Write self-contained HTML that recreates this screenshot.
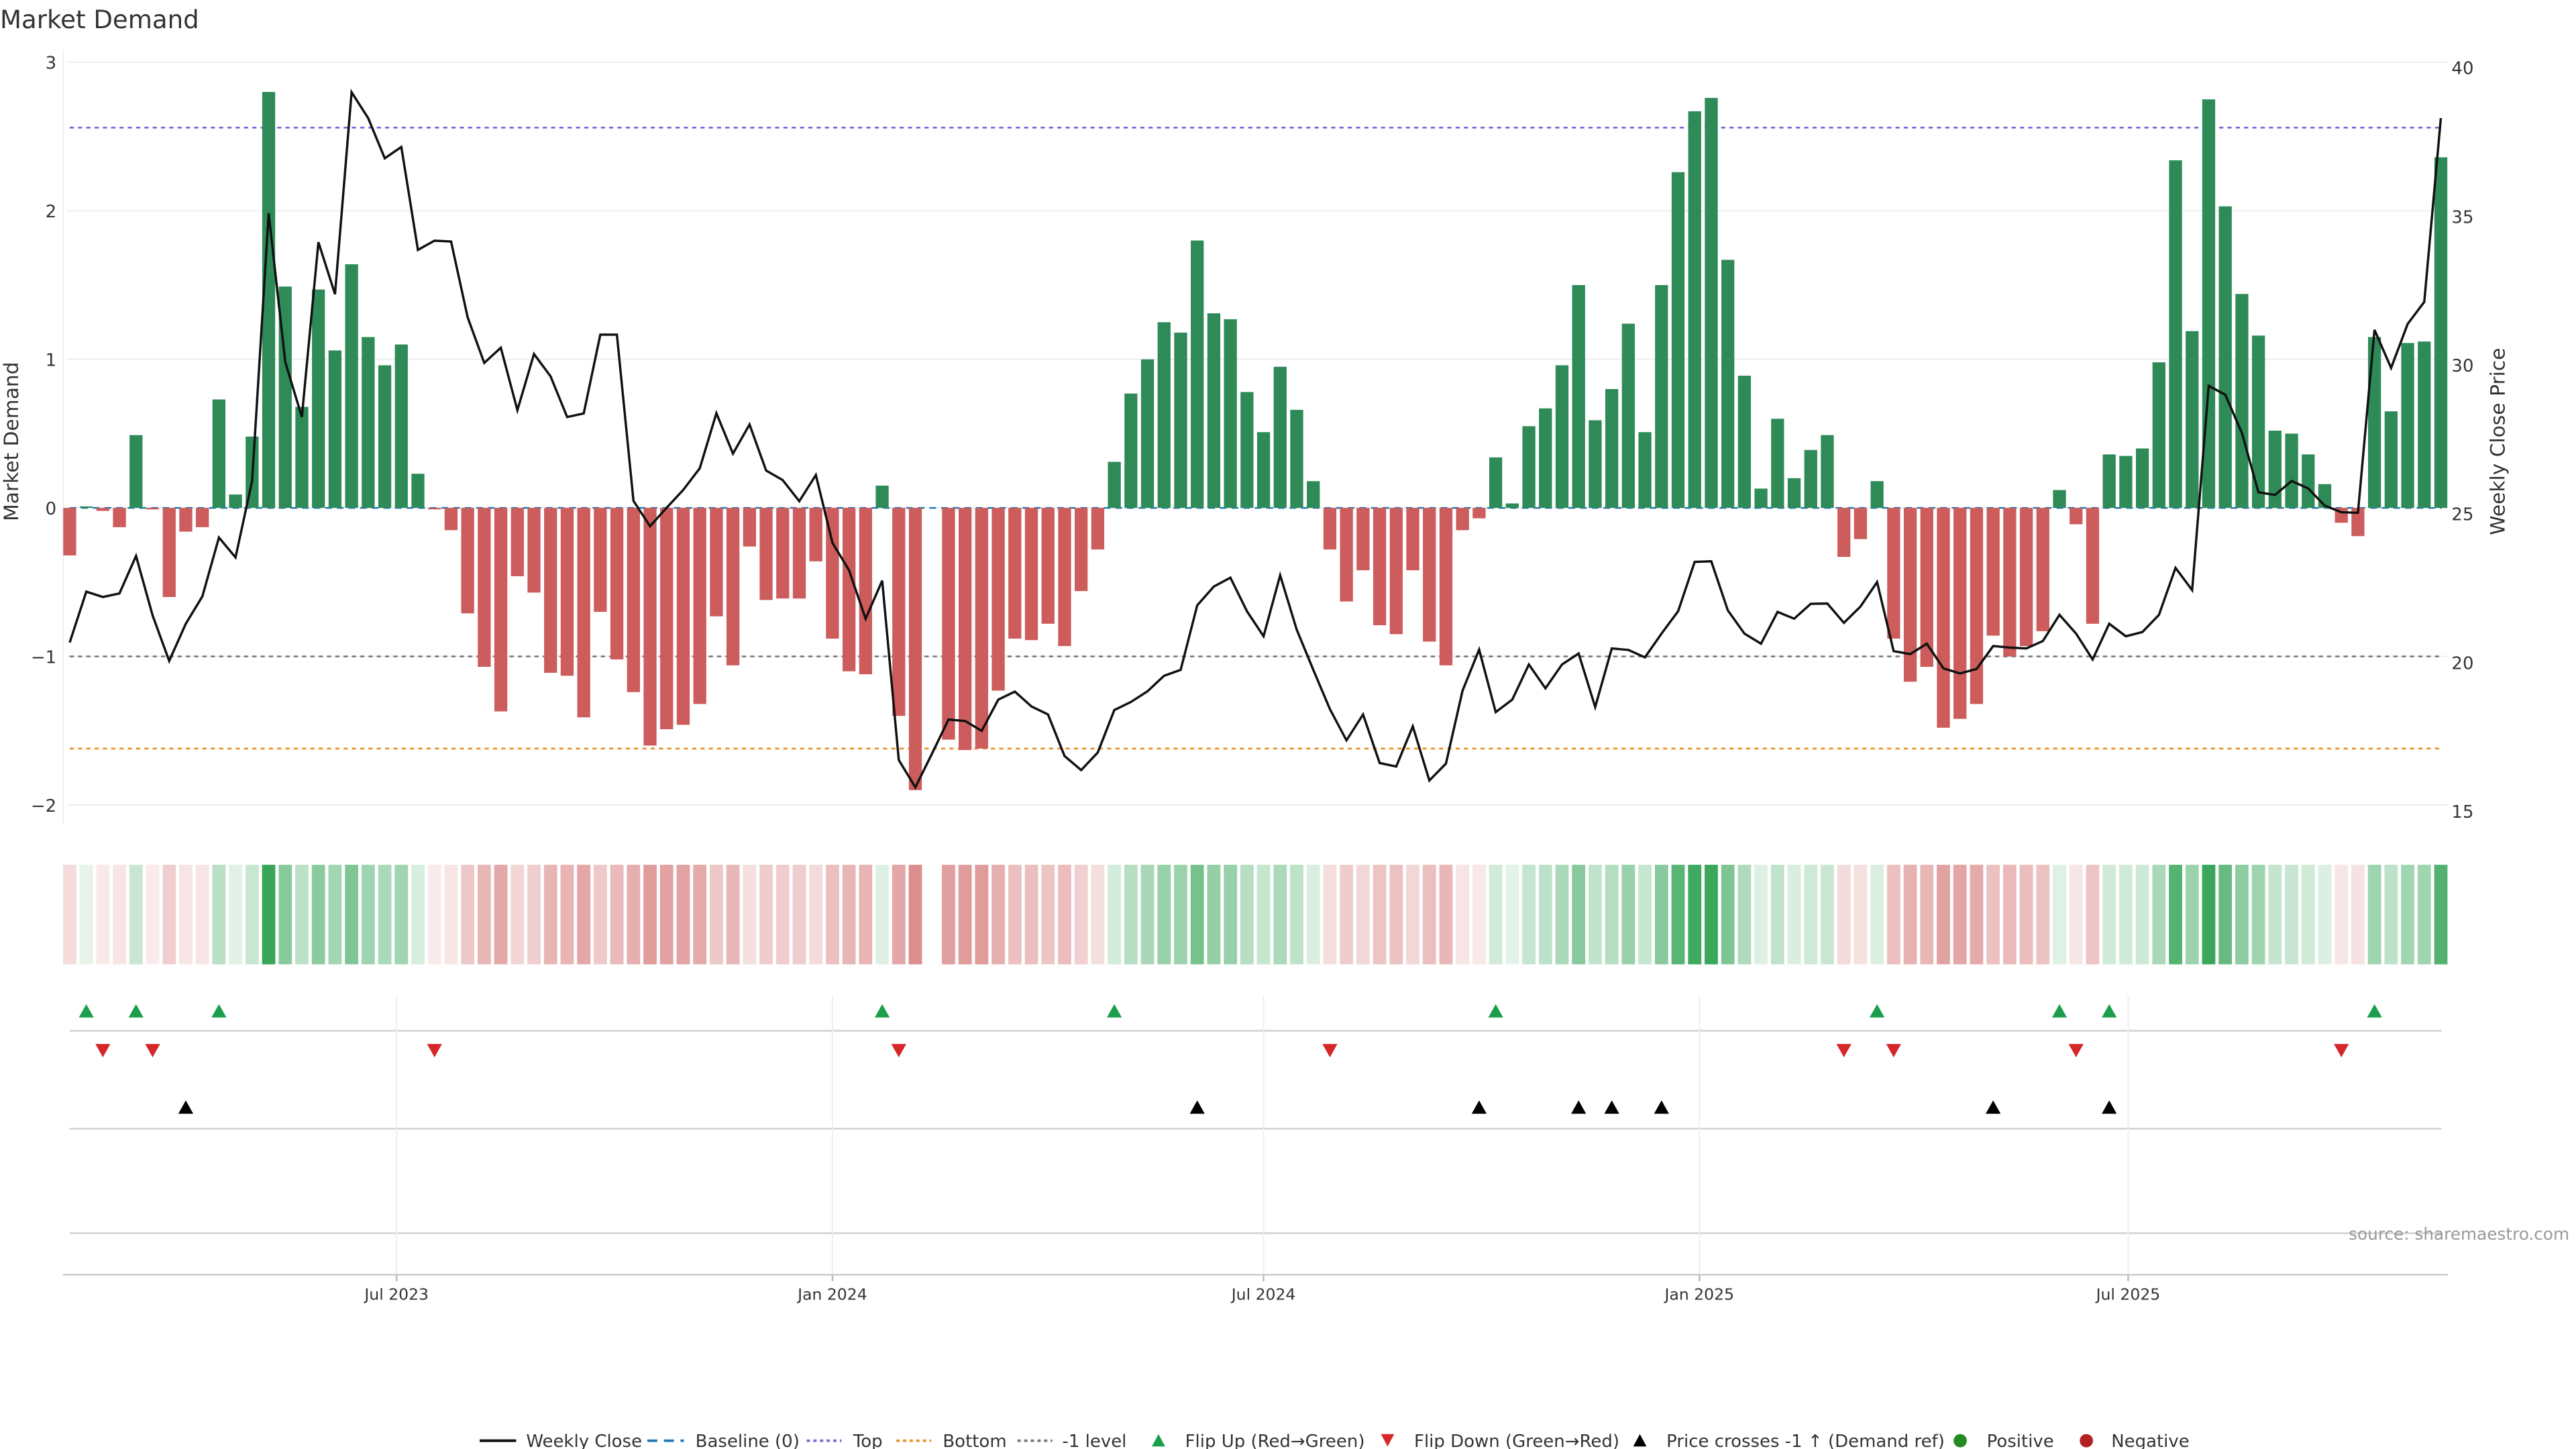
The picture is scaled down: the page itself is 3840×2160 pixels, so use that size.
<!DOCTYPE html>
<html><head><meta charset="utf-8"><title>Market Demand</title>
<style>
html,body{margin:0;padding:0;background:#fff;}
svg{display:block;}
text{font-family:"DejaVu Sans","Liberation Sans",sans-serif;}
</style></head>
<body>
<svg id="chart" xmlns="http://www.w3.org/2000/svg" width="3840" height="2160" viewBox="0 0 1552 873">
<text x="0" y="17" font-size="15" fill="#333">Market Demand</text>
<g id="grid"></g>
<g id="refs"></g>
<g id="bars"></g>
<g id="line"></g>
<g id="axes"></g>
<g id="heat"></g>
<g id="markers"></g>
<g id="xaxis"></g>
<text x="1548" y="747" font-size="10" fill="#999" text-anchor="end">source: sharemaestro.com</text>
<g id="legend"></g>
</svg>
<script>
const demand=[-0.32,0.01,-0.02,-0.13,0.49,-0.01,-0.60,-0.16,-0.13,0.73,0.09,0.48,2.80,1.49,0.68,1.47,1.06,1.64,1.15,0.96,1.10,0.23,-0.01,-0.15,-0.71,-1.07,-1.37,-0.46,-0.57,-1.11,-1.13,-1.41,-0.70,-1.02,-1.24,-1.60,-1.49,-1.46,-1.32,-0.73,-1.06,-0.26,-0.62,-0.61,-0.61,-0.36,-0.88,-1.10,-1.12,0.15,-1.40,-1.90,0,-1.56,-1.63,-1.62,-1.23,-0.88,-0.89,-0.78,-0.93,-0.56,-0.28,0.31,0.77,1.00,1.25,1.18,1.80,1.31,1.27,0.78,0.51,0.95,0.66,0.18,-0.28,-0.63,-0.42,-0.79,-0.85,-0.42,-0.90,-1.06,-0.15,-0.07,0.34,0.03,0.55,0.67,0.96,1.50,0.59,0.80,1.24,0.51,1.50,2.26,2.67,2.76,1.67,0.89,0.13,0.60,0.20,0.39,0.49,-0.33,-0.21,0.18,-0.88,-1.17,-1.07,-1.48,-1.42,-1.32,-0.86,-1.00,-0.93,-0.83,0.12,-0.11,-0.78,0.36,0.35,0.40,0.98,2.34,1.19,2.75,2.03,1.44,1.16,0.52,0.50,0.36,0.16,-0.10,-0.19,1.15,0.65,1.11,1.12,2.36];
const price=[20.67,22.38,22.2,22.32,23.58,21.58,20.05,21.3,22.22,24.2,23.53,26.1,35.1,30.1,28.25,34.13,32.38,39.17,38.3,36.95,37.33,33.87,34.18,34.15,31.6,30.07,30.58,28.48,30.37,29.62,28.25,28.37,31.02,31.02,25.43,24.58,25.2,25.8,26.53,28.38,27.02,28.0,26.45,26.13,25.42,26.3,24.02,23.1,21.47,22.75,16.72,15.8,16.93,18.08,18.03,17.7,18.75,19.02,18.52,18.25,16.85,16.38,16.97,18.4,18.67,19.03,19.55,19.75,21.92,22.55,22.85,21.72,20.88,22.93,21.1,19.75,18.43,17.38,18.25,16.62,16.5,17.85,16.03,16.6,19.05,20.43,18.33,18.75,19.93,19.13,19.93,20.3,18.5,20.47,20.42,20.17,20.97,21.72,23.38,23.4,21.75,20.97,20.63,21.7,21.47,21.97,21.98,21.33,21.88,22.7,20.38,20.28,20.63,19.8,19.63,19.78,20.55,20.5,20.47,20.72,21.6,20.97,20.1,21.3,20.88,21.02,21.6,23.18,22.43,29.3,29.0,27.72,25.72,25.63,26.1,25.85,25.27,25.05,25.03,31.18,29.9,31.38,32.12,38.3];
const flipUp=[1,4,9,49,63,86,109,120,123,139];
const flipDown=[2,5,22,50,76,107,110,121,137];
const priceCross=[7,68,85,91,93,96,116,123];
const leftTicks=[3,2,1,0,-1,-2];
const rightTicks=[40,35,30,25,20,15];
const xTickLabels=["Jul 2023","Jan 2024","Jul 2024","Jan 2025","Jul 2025"];
const xTickDates=["2023-07-01","2024-01-01","2024-07-01","2025-01-01","2025-07-01"];
const topLevel=2.56, bottomLevel=-1.62, minusOne=-1;
const startDate="2023-02-13";

const NS="http://www.w3.org/2000/svg";
const X0=42, STEP=9.99;
const xi=i=>X0+i*STEP;
const xd=d=>X0+(Date.parse(d)-Date.parse(startDate))/(7*864e5)*STEP;
const yD=v=>306-v*89.5;
const yP=p=>309.5-(p-25)*17.92;
function mk(tag,attrs,parent){const e=document.createElementNS(NS,tag);for(const k in attrs)e.setAttribute(k,attrs[k]);parent.appendChild(e);return e;}
const g=id=>document.getElementById(id);

// grid
leftTicks.forEach(v=>{
  const l=mk('line',{x1:40,x2:1475,y1:yD(v),y2:yD(v),stroke:'#eeeeee','stroke-width':0.8},g('grid'));
  
  
});
const la=mk('line',{x1:38,x2:38,y1:30,y2:497,stroke:'#f0f0f0','stroke-width':0.8},g('grid'));



// reference lines
function ref(v,color,dash,name,w){const l=mk('line',{x1:42,x2:1471,y1:yD(v),y2:yD(v),stroke:color,'stroke-width':w||1.1,'stroke-dasharray':dash},g('refs'));
  
  }
ref(topLevel,'#7a6ad8','2.5,2.5','top-line');
ref(bottomLevel,'#e8922a','2.5,2.5','bottom-line');
ref(minusOne,'#777777','2.5,2.5','minus-one-level-line');

// bars
demand.forEach((v,i)=>{
  if(v===0)return;
  const y=Math.min(yD(v),yD(0)),h=Math.abs(yD(v)-yD(0));
  const r=mk('rect',{x:xi(i)-3.9,y:y,width:7.8,height:Math.max(h,0.6),fill:v>=0?'#2e8b57':'#cd5c5c'},g('bars'));
  
  
});
ref(0,'#1f77b4','4,3','baseline-zero',1);

// price line
const pts=price.map((p,i)=>xi(i).toFixed(2)+','+yP(p).toFixed(2)).join(' ');
const pl=mk('polyline',{points:pts,fill:'none',stroke:'#111','stroke-width':1.4,'stroke-linejoin':'miter'},g('line'));



// axes labels
leftTicks.forEach(v=>{
  const t=mk('text',{x:34,y:yD(v)+4,'font-size':10.5,fill:'#333','text-anchor':'end'},g('axes'));
  t.textContent=v<0?'\u2212'+Math.abs(v):String(v);
  
  
});
rightTicks.forEach(v=>{
  const t=mk('text',{x:1477,y:yP(v)+4,'font-size':10.5,fill:'#333'},g('axes'));
  t.textContent=String(v);
  
  
});
const yt=mk('text',{x:0,y:0,'font-size':12,fill:'#333','text-anchor':'middle',transform:'translate(11,266) rotate(-90)'},g('axes'));
yt.textContent='Market Demand';


const yt2=mk('text',{x:0,y:0,'font-size':12,fill:'#333','text-anchor':'middle',transform:'translate(1509,266) rotate(-90)'},g('axes'));
yt2.textContent='Weekly Close Price';



// heatmap
demand.forEach((v,i)=>{
  if(v===0)return;
  const t=Math.min(0.12+0.85*Math.abs(v)/2.8,1);
  const base=v>=0?[49,163,84]:[205,92,92];
  const c=base.map(b=>Math.round(255-(255-b)*t));
  const r=mk('rect',{x:xi(i)-4,y:521,width:8,height:60,fill:'rgb('+c.join(',')+')'},g('heat'));
  
  
});

// marker rows
[621,680,743].forEach(y=>{const l=mk('line',{x1:42,x2:1471,y1:y,y2:y,stroke:'#d0d0d0','stroke-width':1},g('markers'));
  
  });
xTickDates.forEach(d=>{const l=mk('line',{x1:xd(d),x2:xd(d),y1:600,y2:768,stroke:'#eeeeee','stroke-width':0.8},g('markers'));
  
  });
function tri(x,y,up,color,name){
  const p=up?`${x-4.5},${y+4} ${x+4.5},${y+4} ${x},${y-4}`:`${x-4.5},${y-4} ${x+4.5},${y-4} ${x},${y+4}`;
  const e=mk('polygon',{points:p,fill:color},g('markers'));
  
  
}
flipUp.forEach(i=>tri(xi(i),609,true,'#1a9e4a','flip-up-marker'));
flipDown.forEach(i=>tri(xi(i),633,false,'#d62728','flip-down-marker'));
priceCross.forEach(i=>tri(xi(i),667,true,'#000','price-cross-marker'));

// x axis
const xa=mk('line',{x1:38,x2:1475,y1:768,y2:768,stroke:'#cccccc','stroke-width':1},g('xaxis'));


xTickDates.forEach((d,k)=>{
  const tk=mk('line',{x1:xd(d),x2:xd(d),y1:768,y2:772,stroke:'#bbb','stroke-width':1},g('xaxis'));
  
  
  const t=mk('text',{x:xd(d),y:783,'font-size':9.5,fill:'#333','text-anchor':'middle'},g('xaxis'));
  t.textContent=xTickLabels[k];
  
  
});

// legend
const L=g('legend'), LY=868;
function ltext(x,s){const t=mk('text',{x:x,y:LY+3.7,'font-size':10.5,fill:'#333'},L);t.textContent=s;
  
  }
function lline(x1,x2,color,dash,w){const l=mk('line',{x1:x1,x2:x2,y1:LY,y2:LY,stroke:color,'stroke-width':w,'stroke-dasharray':dash},L);
  
  }
lline(289,311,'#111','none',1.6); ltext(317,'Weekly Close');
lline(390,412,'#1f77b4','6,4',1.5); ltext(419,'Baseline (0)');
lline(486,507,'#7a6ad8','2,2',1.5); ltext(514,'Top');
lline(540,561,'#e8922a','2,2',1.5); ltext(568,'Bottom');
lline(613,634,'#777','2,2',1.5); ltext(640,'-1 level');
function ltri(x,up,color){const y=LY;const p=up?`${x-4},${y+3.5} ${x+4},${y+3.5} ${x},${y-4}`:`${x-4},${y-4} ${x+4},${y-4} ${x},${y+3.5}`;
  const e=mk('polygon',{points:p,fill:color},L);
  
  }
ltri(698,true,'#1a9e4a'); ltext(714,'Flip Up (Red\u2192Green)');
ltri(836,false,'#d62728'); ltext(852,'Flip Down (Green\u2192Red)');
ltri(988,true,'#000'); ltext(1004,'Price crosses -1 \u2191 (Demand ref)');
function ldot(x,color){const c=mk('circle',{cx:x,cy:LY,r:4,fill:color},L);
  
  }
ldot(1181,'#228b22'); ltext(1197,'Positive');
ldot(1257,'#b22222'); ltext(1272,'Negative');
</script>
</body></html>
